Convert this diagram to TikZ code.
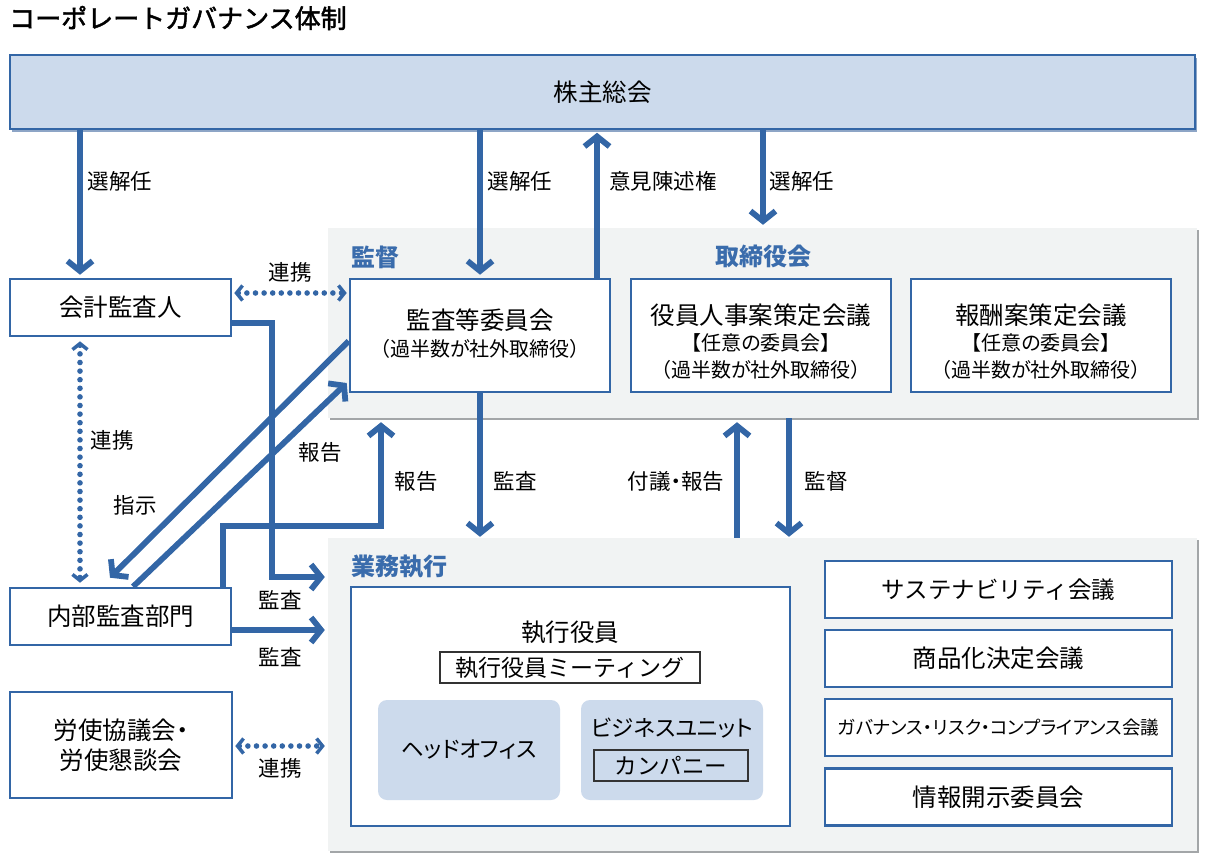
\documentclass[tikz,border=0pt]{standalone}
\usepackage{fontspec}
\setmainfont{Noto Sans CJK JP}
\newfontfamily\pf{Noto Sans CJK JP}[RawFeature=+palt]
\newfontfamily\titlefont{Noto Sans CJK JP}[FakeBold=1.8]
\usetikzlibrary{arrows.meta,calc,shadows}
\definecolor{blu}{HTML}{3366A6}
\definecolor{hdr}{HTML}{3A6CAC}
\definecolor{lb}{HTML}{CCDAEC}
\definecolor{pg}{HTML}{F1F3F3}
\definecolor{sg}{HTML}{A3A6A8}
\definecolor{ksh}{HTML}{8DA5C6}
\newcommand\fsz[2]{\fontsize{#1}{#2}\selectfont}
\begin{document}
\begin{tikzpicture}[x=1pt,y=-1pt,
  box/.style={draw=blu, line width=2.6pt, fill=white, align=center, inner sep=0pt, text=black},
  panel/.style={fill=pg, draw=none, inner sep=0pt, drop shadow={shadow xshift=1.6pt, shadow yshift=-1.6pt, fill=sg, opacity=1}},
  lab/.style={font=\pf\fsz{21.5}{26}, text=black, inner sep=0pt},
  txt/.style={inner sep=0pt, text=black, font=\fsz{24.5}{29}},
  stxt/.style={inner sep=0pt, text=black, font=\pf\fsz{20}{24}},
  hdrs/.style={font=\fsz{24}{28}\bfseries, text=hdr, inner sep=0pt},
  sub/.style={draw=black!80, line width=1.2pt, inner sep=0pt},
  rbox/.style={fill=lb, rounded corners=9pt, minimum width=182pt, minimum height=100pt, inner sep=0pt},
  arr/.style={draw=blu, line width=5.8pt, -{Straight Barb[length=10pt,width=25pt]}},
  darr/.style={draw=blu, line width=5.6pt, line cap=round, dash pattern=on 0pt off 8.6pt,
    {Straight Barb[length=6pt,width=15pt,line width=3.5pt]}-{Straight Barb[length=6pt,width=15pt,line width=3.5pt]}}
]
\useasboundingbox (0,0) rectangle (1206,862);

% title
\node[anchor=west, inner sep=0pt, font=\titlefont\fsz{26}{30}] (title) at (9,18) {コーポレートガバナンス体制};

% shareholders
\node[box, fill=lb, line width=1.5pt, minimum width=1185pt, minimum height=74pt, font=\fsz{24.5}{29},
  drop shadow={shadow xshift=2pt, shadow yshift=-3pt, fill=ksh, opacity=1}] (kab) at (602.5,92) {株主総会};

% panels
\node[panel, minimum width=869pt, minimum height=190pt] (p1) at (762.5,323) {};
\node[panel, minimum width=869pt, minimum height=313pt] (p2) at (762.5,694.5) {};

\node[hdrs, anchor=west] (hkan) at (351,257) {監督};
\node[hdrs] (htori) at (763,256) {取締役会};
\node[hdrs, anchor=west] (hgyo) at (351,567) {業務執行};

% board boxes
\node[box, minimum width=260pt, minimum height=113pt] (kansa) at (480,335.5) {};
\node[txt] (kansa1) at (480,320) {監査等委員会};
\node[stxt] (kansa2) at (480,349) {（過半数が社外取締役）};
\node[box, minimum width=260pt, minimum height=113pt] (yak) at (761,335.5) {};
\node[txt] (yak1) at (761,315) {役員人事案策定会議};
\node[stxt] (yak2) at (761,343) {【任意の委員会】};
\node[stxt] (yak3) at (761,370) {（過半数が社外取締役）};
\node[box, minimum width=260pt, minimum height=113pt] (hos) at (1041,335.5) {};
\node[txt] (hos1) at (1041,315) {報酬案策定会議};
\node[stxt] (hos2) at (1041,343) {【任意の委員会】};
\node[stxt] (hos3) at (1041,370) {（過半数が社外取締役）};

% left boxes
\node[box, minimum width=221pt, minimum height=57pt, font=\fsz{24.5}{29}] (kai) at (120.5,307.5) {会計監査人};
\node[box, minimum width=221pt, minimum height=57pt, font=\fsz{24.5}{29}] (nai) at (120.5,616.5) {内部監査部門};
\node[box, minimum width=222pt, minimum height=106pt, font=\pf\fsz{24.5}{30}] (ros) at (121,745) {労使協議会・\\労使懇談会};

% execution
\node[box, minimum width=439pt, minimum height=239pt] (shk) at (570.5,706.5) {};
\node[txt] (shkt) at (570,632) {執行役員};
\node[sub, minimum width=260pt, minimum height=31pt, font=\fsz{23}{27}] (mtg) at (570,667.5) {執行役員ミーティング};
\node[rbox, font=\pf\fsz{22.5}{27}] (ho) at (469,750) {ヘッドオフィス};
\node[rbox] (bu) at (672,750) {};
\node[inner sep=0pt, font=\pf\fsz{22.5}{27}] (but) at (672,728) {ビジネスユニット};
\node[sub, minimum width=154pt, minimum height=31pt, font=\fsz{22.5}{27}] (comp) at (671,765.5) {カンパニー};

% right boxes
\node[box, minimum width=347pt, minimum height=57pt, font=\fsz{23.5}{28}] (r1) at (998.5,589.5) {サステナビリティ会議};
\node[box, minimum width=347pt, minimum height=57pt, font=\fsz{24.5}{29}] (r2) at (998.5,658.5) {商品化決定会議};
\node[box, minimum width=347pt, minimum height=57pt, font=\pf\fsz{18.5}{22}] (r3) at (998.5,727.5) {ガバナンス・リスク・コンプライアンス会議};
\node[box, minimum width=347pt, minimum height=57pt, font=\fsz{24.5}{29}] (r4) at (998.5,797) {情報開示委員会};

% helper coordinates
\coordinate (x80) at (80,0);
\coordinate (x480) at (480,0);
\coordinate (x597) at (597,0);
\coordinate (x763) at (763,0);
\coordinate (x737) at (737,0);
\coordinate (x789) at (789,0);
\coordinate (b1) at (272,577);
\coordinate (b2) at (223,526);
\coordinate (b3) at (381,526);

% arrows
\draw[arr] (x80 |- kab.south) -- ($(x80 |- kai.north)+(0,-3)$);
\draw[arr] (x480 |- kab.south) -- ($(x480 |- kansa.north)+(0,-3)$);
\draw[arr] (x597 |- kansa.north) -- ($(x597 |- kab.south)+(0,3)$);
\draw[arr] (x763 |- kab.south) -- ($(x763 |- p1.north)+(0,-3)$);
\draw[darr] ($(kai.east)+(2,-14.5)$) -- ($(kansa.west)+(-2,-42.5)$);
\draw[darr] ($(x80 |- kai.south)+(0,4)$) -- ($(x80 |- nai.north)+(0,-4)$);
\draw[arr] ($(kai.east)+(0,15.5)$) -| (b1) -- ($(b1 -| p2.west)+(-3,0)$);
\draw[arr] ($(nai.east)+(0,13.5)$) -- ($(nai.east -| p2.west)+(-3,13.5)$);
\draw[arr] ($(kansa.west)+(0,5.5)$) -- ($(nai.north)+(-10.5,-9)$);
\draw[arr] ($(nai.north)+(12.5,0)$) -- ($(kansa.west)+(-2,47.5)$);
\draw[arr] (b2 |- nai.north) -- (b2) -- (b3) -- ($(b3 |- p1.south)+(0,4)$);
\draw[arr] (x480 |- kansa.south) -- ($(x480 |- p2.north)+(0,-1)$);
\draw[arr] (x737 |- p2.north) -- ($(x737 |- p1.south)+(0,4)$);
\draw[arr] (x789 |- p1.south) -- ($(x789 |- p2.north)+(0,-1)$);
\draw[darr] ($(ros.east)+(2,1)$) -- ($(ros.east -| p2.west)+(-3,1)$);

% labels
\node[lab] (l1) at (120,181) {選解任};
\node[lab] (l2) at (520,181) {選解任};
\node[lab] (l3) at (663,181) {意見陳述権};
\node[lab] (l4) at (802,181) {選解任};
\node[lab] (l5) at (290,272) {連携};
\node[lab] (l6) at (112,440) {連携};
\node[lab] (l7) at (135,505) {指示};
\node[lab] (l8) at (320,452) {報告};
\node[lab] (l9) at (416,481) {報告};
\node[lab] (l10) at (515,481) {監査};
\node[lab] (l11) at (676,481) {付議・報告};
\node[lab] (l12) at (826,481) {監督};
\node[lab] (l13) at (280,600) {監査};
\node[lab] (l14) at (280,657) {監査};
\node[lab] (l15) at (280,768) {連携};
\end{tikzpicture}
\end{document}
